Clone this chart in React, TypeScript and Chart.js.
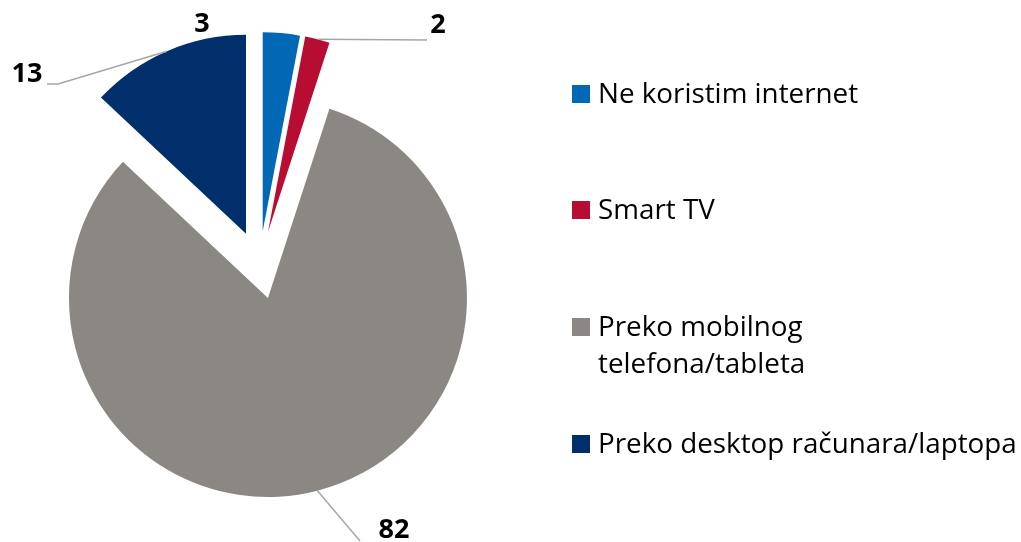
import React, { useEffect, useRef } from 'react';
import { Chart, registerables } from 'chart.js';

Chart.register(...registerables);

// ---- data ----
const categories = [
  'Ne koristim internet',
  'Smart TV',
  'Preko mobilnog telefona/tableta',
  'Preko desktop računara/laptopa',
];
const legendLines = [
  ['Ne koristim internet'],
  ['Smart TV'],
  ['Preko mobilnog', 'telefona/tableta'],
  ['Preko desktop računara/laptopa'],
];
const values = [3, 2, 82, 13];
const colors = ['#0068B5', '#B80D32', '#8B8782', '#002F6C'];

// ---- layout / styling (not data) ----
const EXPLODE = 34;
const LABEL_FONT = 'bold 27px "Open Sans"';
const LEGEND_FONT = '27.8px "Open Sans"';
const labelSpecs: { x: number; y: number; line?: number[][] }[] = [
  { x: 202, y: 24 },
  { x: 438, y: 25, line: [[427, 40]] },
  { x: 394, y: 530, line: [[360, 541]] },
  { x: 27, y: 74, line: [[58, 84], [47, 84]] },
];
const legendX = 572;
const legendBox = 18;
const legendTextX = 598;
const legendRowY = [[94], [210], [327, 364], [444]];

const explodePlugin = {
  id: 'explodeSlices',
  afterDatasetsUpdate(chart: any) {
    const meta = chart.getDatasetMeta(0);
    meta.data.forEach((el: any) => {
      const mid = (el.startAngle + el.endAngle) / 2;
      el.x += Math.cos(mid) * EXPLODE;
      el.y += Math.sin(mid) * EXPLODE;
    });
  },
};

const labelPlugin = {
  id: 'sliceLabels',
  afterDatasetsDraw(chart: any) {
    const ctx = chart.ctx as CanvasRenderingContext2D;
    const meta = chart.getDatasetMeta(0);
    ctx.save();
    ctx.strokeStyle = '#A6A6A6';
    ctx.lineWidth = 1.5;
    ctx.font = LABEL_FONT;
    ctx.fillStyle = '#000000';
    ctx.textAlign = 'center';
    ctx.textBaseline = 'middle';
    labelSpecs.forEach((spec, i) => {
      const el = meta.data[i];
      if (!el) return;
      const mid = (el.startAngle + el.endAngle) / 2;
      const ax = el.x + Math.cos(mid) * el.outerRadius;
      const ay = el.y + Math.sin(mid) * el.outerRadius;
      if (spec.line) {
        ctx.beginPath();
        ctx.moveTo(ax, ay);
        spec.line.forEach(([x, y]) => ctx.lineTo(x, y));
        ctx.stroke();
      }
      ctx.fillText(String(values[i]), spec.x, spec.y);
    });
    ctx.restore();
  },
};

const legendPlugin = {
  id: 'sideLegend',
  afterDraw(chart: any) {
    const ctx = chart.ctx as CanvasRenderingContext2D;
    ctx.save();
    ctx.font = LEGEND_FONT;
    ctx.textAlign = 'left';
    ctx.textBaseline = 'middle';
    categories.forEach((_, i) => {
      const ys = legendRowY[i];
      ctx.fillStyle = colors[i];
      ctx.fillRect(legendX, ys[0] - legendBox / 2, legendBox, legendBox);
      ctx.fillStyle = '#000000';
      legendLines[i].forEach((line, j) => {
        ctx.fillText(line, legendTextX, ys[j] + 1);
      });
    });
    ctx.restore();
  },
};

export default function App() {
  const canvasRef = useRef<HTMLCanvasElement | null>(null);

  useEffect(() => {
    let chart: Chart | null = null;
    let cancelled = false;
    const make = () => {
      if (cancelled || !canvasRef.current) return;
      chart = new Chart(canvasRef.current, {
        type: 'pie',
        data: {
          labels: categories,
          datasets: [
            {
              data: values,
              backgroundColor: colors,
              borderWidth: 0,
            },
          ],
        },
        options: {
          responsive: false,
          animation: false,
          devicePixelRatio: 1,
          layout: { padding: { left: 60.5, top: 66, right: 562.5, bottom: 78 } },
          plugins: {
            legend: { display: false },
            tooltip: { enabled: false },
          },
        },
        plugins: [explodePlugin, labelPlugin, legendPlugin],
      });
    };
    const fonts = (document as any).fonts;
    if (fonts && fonts.load) {
      Promise.all([fonts.load(LABEL_FONT), fonts.load(LEGEND_FONT)]).then(make, make);
    } else {
      make();
    }
    return () => {
      cancelled = true;
      if (chart) chart.destroy();
    };
  }, []);

  return (
    <div style={{ position: 'absolute', left: 0, top: 0, width: 1021, height: 542, background: '#ffffff' }}>
      <canvas ref={canvasRef} width={1021} height={542} style={{ display: 'block' }} />
    </div>
  );
}
